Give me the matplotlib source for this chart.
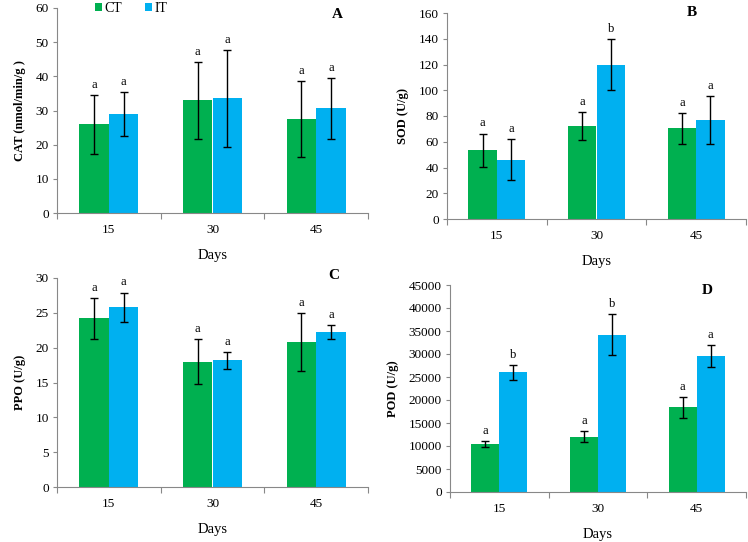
import matplotlib
matplotlib.use('Agg')
import matplotlib.pyplot as plt
import numpy as np
from matplotlib.patches import Patch

days = ['15', '30', '45']
series_names = ['CT', 'IT']

cat_ct = [26.0, 33.0, 27.5]
cat_ct_err = [8.6, 11.2, 11.0]
cat_it = [29.0, 33.6, 30.6]
cat_it_err = [6.5, 14.2, 9.0]
cat_ct_sig = ['a', 'a', 'a']
cat_it_sig = ['a', 'a', 'a']

sod_ct = [53.5, 72.3, 70.3]
sod_ct_err = [12.8, 11.0, 12.0]
sod_it = [46.0, 120.0, 76.7]
sod_it_err = [15.8, 20.0, 18.5]
sod_ct_sig = ['a', 'a', 'a']
sod_it_sig = ['a', 'b', 'a']

ppo_ct = [24.2, 18.0, 20.8]
ppo_ct_err = [2.9, 3.2, 4.2]
ppo_it = [25.8, 18.2, 22.3]
ppo_it_err = [2.1, 1.2, 1.0]
ppo_ct_sig = ['a', 'a', 'a']
ppo_it_sig = ['a', 'a', 'a']

pod_ct = [10400, 12000, 18400]
pod_ct_err = [650, 1200, 2300]
pod_it = [26000, 34200, 29500]
pod_it_err = [1650, 4500, 2400]
pod_ct_sig = ['a', 'a', 'a']
pod_it_sig = ['b', 'b', 'a']

GREEN = '#00B050'
BLUE = '#00B0F0'
SERIF = 'Liberation Serif'
plt.rcParams['font.family'] = SERIF

fig = plt.figure(figsize=(7.48, 5.42), dpi=100)
W, H = 748, 542


def px_axes(l, r, t, b):
    return fig.add_axes([l / W, (H - b) / H, (r - l) / W, (b - t) / H])


def draw(ax, ct, ct_err, it, it_err, ct_sig, it_sig, ymax, ystep, ylabel,
         letter, lpos):
    x = np.arange(len(days))
    w = 0.285
    ekw = dict(ecolor='black', elinewidth=1.0, capsize=3, capthick=1.0)
    ax.bar(x - w / 2, ct, w, color=GREEN, yerr=ct_err, error_kw=ekw, zorder=2)
    ax.bar(x + w / 2, it, w, color=BLUE, yerr=it_err, error_kw=ekw, zorder=2)
    for xi, v, e, s in zip(x - w / 2, ct, ct_err, ct_sig):
        ax.annotate(s, (xi, v + e), xytext=(0, 3), textcoords='offset points',
                    ha='center', va='bottom', fontsize=9, family=SERIF)
    for xi, v, e, s in zip(x + w / 2, it, it_err, it_sig):
        ax.annotate(s, (xi, v + e), xytext=(0, 3), textcoords='offset points',
                    ha='center', va='bottom', fontsize=9, family=SERIF)
    ax.set_xlim(-0.5, len(days) - 0.5)
    ax.set_ylim(0, ymax)
    ax.set_yticks(np.arange(0, ymax + ystep / 2, ystep))
    ax.set_xticks(x)
    ax.set_xticklabels(days)
    ax.set_xticks(np.arange(-0.5, len(days)), minor=True)
    ax.tick_params(axis='x', which='major', length=0, pad=8, labelsize=9.5)
    ax.tick_params(axis='x', which='minor', length=4, color='#888888', width=0.8)
    ax.tick_params(axis='y', length=3, color='#888888', width=0.8, labelsize=9.5, pad=3)
    for s in ['top', 'right']:
        ax.spines[s].set_visible(False)
    for s in ['left', 'bottom']:
        ax.spines[s].set_color('#888888')
        ax.spines[s].set_linewidth(0.8)
    ax.set_xlabel('Days', fontsize=10.5, labelpad=9)
    ax.set_ylabel(ylabel, fontsize=9, fontweight='bold', labelpad=7)
    ax.text(lpos[0], lpos[1], letter, transform=ax.transAxes, fontsize=11,
            fontweight='bold', ha='center', va='center')


axA = px_axes(57, 368, 8, 213)
draw(axA, cat_ct, cat_ct_err, cat_it, cat_it_err, cat_ct_sig, cat_it_sig,
     60, 10, 'CAT (nmol/min/g )', 'A', (0.90, 0.97))
axB = px_axes(447, 746, 13, 219)
draw(axB, sod_ct, sod_ct_err, sod_it, sod_it_err, sod_ct_sig, sod_it_sig,
     160, 20, 'SOD (U/g)', 'B', (0.82, 1.0))
axC = px_axes(57, 368, 278, 487)
draw(axC, ppo_ct, ppo_ct_err, ppo_it, ppo_it_err, ppo_ct_sig, ppo_it_sig,
     30, 5, 'PPO (U/g)', 'C', (0.89, 1.01))
axD = px_axes(450, 746, 285, 492)
draw(axD, pod_ct, pod_ct_err, pod_it, pod_it_err, pod_ct_sig, pod_it_sig,
     45000, 5000, 'POD (U/g)', 'D', (0.87, 0.975))

handles = [Patch(facecolor=GREEN, label=series_names[0]),
           Patch(facecolor=BLUE, label=series_names[1])]
axA.legend(handles=handles, loc='center left', bbox_to_anchor=(0.1, 1.0),
           ncol=2, frameon=False, fontsize=10, handlelength=0.5, handleheight=0.5,
           handletextpad=0.2, columnspacing=1.6, borderpad=0)

fig.savefig('out.png', dpi=100)
